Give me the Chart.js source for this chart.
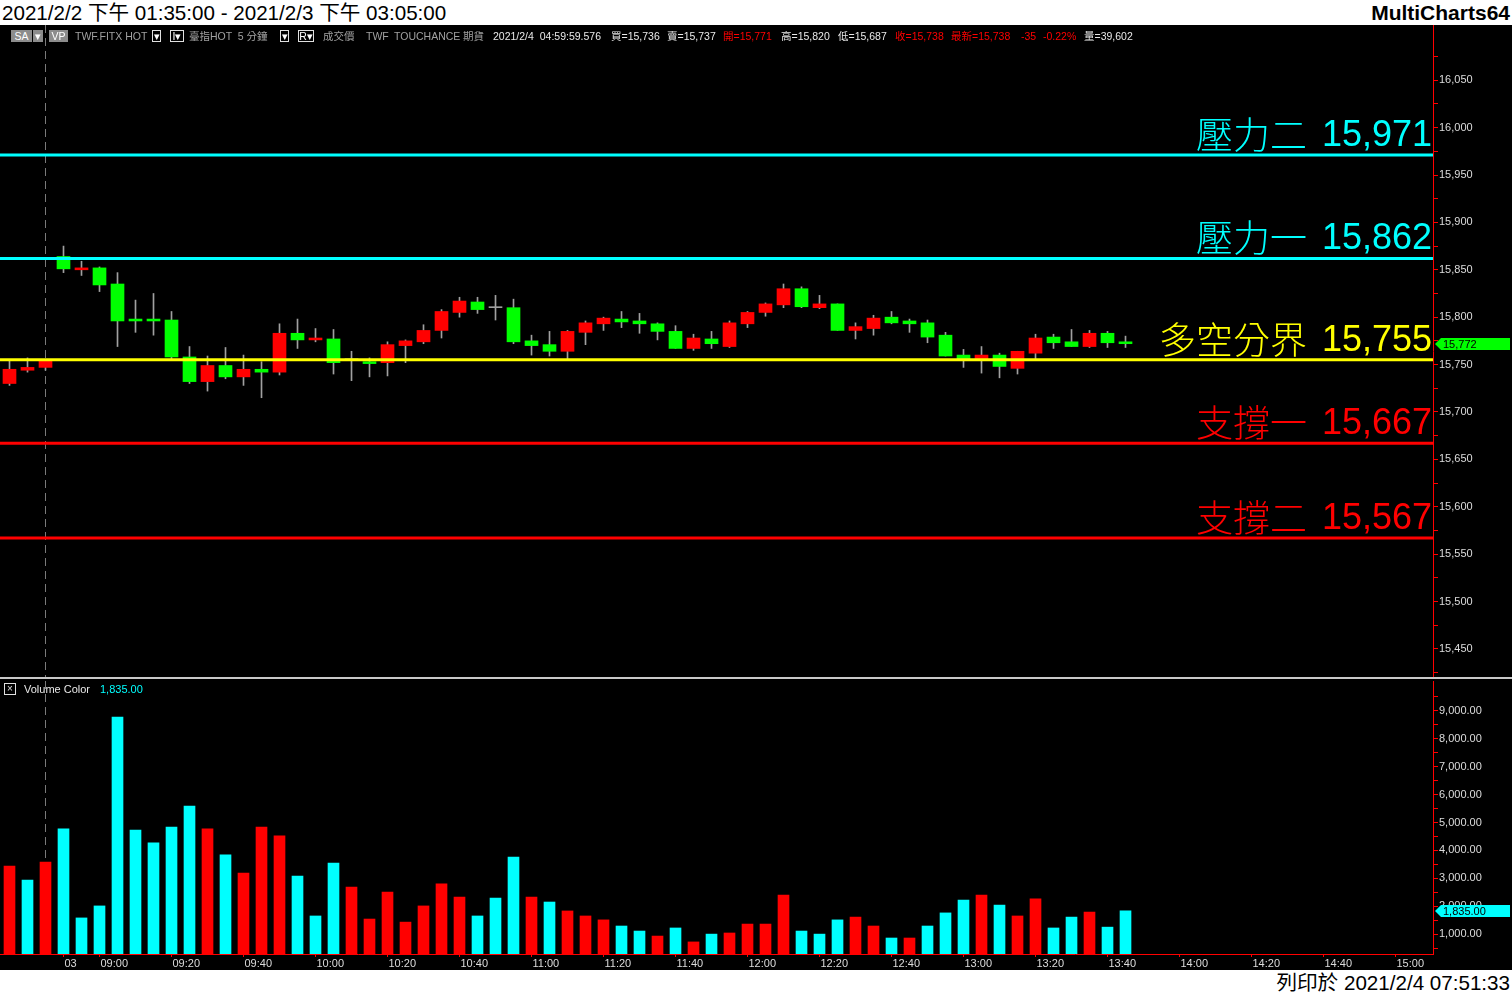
<!DOCTYPE html>
<html>
<head>
<meta charset="utf-8">
<title>TWF.FITX HOT 5 分鐘</title>
<script src="https://cdn.jsdelivr.net/npm/chart.js@4/dist/chart.umd.min.js"></script>
<style>
  body { margin: 0; background: #fff; width: 1512px; height: 995px; overflow: hidden; position: relative;
         font-family: "Liberation Sans", Arial, "Noto Sans CJK TC", sans-serif; }
  #title { position: absolute; left: 2px; top: 0; font-size: 20.6px; line-height: 25px; color: #000; }
  #brand { position: absolute; right: 2px; top: 0; font-size: 21px; font-weight: bold; line-height: 25px; color: #000; }
  #board { position: absolute; left: 0; top: 25px; width: 1512px; height: 945px; background: #000; }
  #priceChart { position: absolute; left: 0; top: 0; }
  #sep { position: absolute; left: 0; top: 652px; width: 1512px; height: 2px; background: #c8c8c8; }
  #volChart { position: absolute; left: 0; top: 654px; }
  #footer { position: absolute; right: 2px; top: 970px; font-size: 20.6px; line-height: 25px; color: #000; }
  .s { position: absolute; top: 5px; height: 12px; line-height: 12px; font-size: 10.5px; white-space: pre; }
  .gray { color: #a0a0a0; }
  .white { color: #e8e8e8; }
  .red { color: #ff0000; }
  .fill { background: #8c8c8c; color: #fff; text-align: center; }
  .box { box-sizing: border-box; border: 1px solid #e0e0e0; color: #fff; text-align: center; line-height: 10px; }
  #volLegend { position: absolute; left: 0; top: 658px; height: 12px; }
  #volLegend .x { position: absolute; left: 4px; top: 0; width: 12px; height: 12px; box-sizing: border-box;
                  border: 1px solid #e0e0e0; color: #e0e0e0; font-size: 10px; line-height: 10px; text-align: center; }
  #volLegend span { position: absolute; top: 0; font-size: 11px; line-height: 12px; white-space: pre; }
</style>
</head>
<body>
<div id="title">2021/2/2 下午 01:35:00 - 2021/2/3 下午 03:05:00</div>
<div id="brand">MultiCharts64</div>
<div id="board">
  <canvas id="priceChart" width="1512" height="652"></canvas>
  <div id="sep"></div>
  <canvas id="volChart" width="1512" height="291"></canvas>

  <span class="s fill" style="left:11px;width:21px">SA</span>
  <span class="s fill" style="left:33px;width:10px">▾</span>
  <span class="s fill" style="left:49px;width:19px">VP</span>
  <span class="s gray" style="left:75px">TWF.FITX HOT</span>
  <span class="s box" style="left:152px;width:9px">▾</span>
  <span class="s box" style="left:170px;width:14px">I▾</span>
  <span class="s gray" style="left:189px">臺指HOT  5 分鐘</span>
  <span class="s box" style="left:280px;width:9px">▾</span>
  <span class="s box" style="left:298px;width:16px">R▾</span>
  <span class="s gray" style="left:323px">成交價</span>
  <span class="s gray" style="left:366px">TWF</span>
  <span class="s gray" style="left:394px">TOUCHANCE</span>
  <span class="s gray" style="left:463px">期貨</span>
  <span class="s white" style="left:493px">2021/2/4  04:59:59.576</span>
  <span class="s white" style="left:611px">買=15,736</span>
  <span class="s white" style="left:667px">賣=15,737</span>
  <span class="s red" style="left:723px">開=15,771</span>
  <span class="s white" style="left:781px">高=15,820</span>
  <span class="s white" style="left:838px">低=15,687</span>
  <span class="s red" style="left:895px">收=15,738</span>
  <span class="s red" style="left:951px">最新=15,738</span>
  <span class="s red" style="left:1021px">-35</span>
  <span class="s red" style="left:1043px">-0.22%</span>
  <span class="s white" style="left:1084px">量=39,602</span>

  <div id="volLegend">
    <div class="x">×</div>
    <span class="white" style="left:24px">Volume Color</span>
    <span id="volLast" style="left:100px;color:#00ffff"></span>
  </div>
</div>
<div id="footer">列印於 2021/2/4 07:51:33</div>

<script>
// 5-minute bars: 3 bars of 2/2 (13:35-13:45), then 2/3 from 08:50 to 13:45
const candleOpen = [
  15730, 15744, 15747, 15864, 15850, 15852, 15835, 15798, 15798, 15797,
  15758, 15732, 15749, 15737, 15745, 15742, 15783, 15776, 15777, 15755,
  15753, 15752, 15770, 15774, 15786, 15805, 15816, 15810, 15810, 15775,
  15771, 15764, 15784, 15793, 15798, 15796, 15793, 15785, 15767, 15777,
  15769, 15793, 15805, 15813, 15830, 15810, 15814, 15786, 15788, 15800,
  15796, 15794, 15781, 15760, 15756, 15760, 15746, 15762, 15779, 15774,
  15769, 15783, 15774
];
const candleHigh = [
  15754, 15757, 15755, 15875, 15859, 15853, 15847, 15818, 15825, 15806,
  15769, 15759, 15768, 15760, 15753, 15793, 15798, 15788, 15787, 15764,
  15757, 15774, 15776, 15792, 15808, 15821, 15821, 15823, 15819, 15781,
  15785, 15786, 15796, 15800, 15806, 15804, 15794, 15791, 15782, 15785,
  15796, 15806, 15815, 15835, 15832, 15823, 15814, 15794, 15802, 15806,
  15798, 15797, 15784, 15766, 15769, 15762, 15764, 15782, 15782, 15787,
  15786, 15785, 15780
];
const candleLow = [
  15728, 15742, 15744, 15847, 15844, 15827, 15769, 15784, 15781, 15756,
  15730, 15722, 15735, 15728, 15715, 15739, 15767, 15774, 15740, 15733,
  15737, 15738, 15752, 15772, 15778, 15800, 15804, 15797, 15772, 15760,
  15759, 15756, 15771, 15786, 15789, 15783, 15776, 15767, 15765, 15767,
  15768, 15789, 15801, 15810, 15810, 15809, 15786, 15777, 15781, 15793,
  15784, 15773, 15759, 15747, 15741, 15736, 15740, 15756, 15767, 15769,
  15768, 15768, 15768
];
const candleClose = [
  15745, 15747, 15754, 15851, 15852, 15834, 15796, 15796, 15796, 15758,
  15732, 15749, 15737, 15745, 15742, 15783, 15776, 15778, 15752, 15755,
  15751, 15771, 15775, 15786, 15806, 15817, 15808, 15810, 15774, 15770,
  15764, 15785, 15794, 15799, 15795, 15793, 15785, 15767, 15778, 15772,
  15794, 15805, 15814, 15830, 15811, 15814, 15786, 15790, 15799, 15794,
  15793, 15779, 15759, 15756, 15760, 15748, 15764, 15778, 15773, 15769,
  15783, 15773, 15772
];
const volumeValues = [
  3440, 2940, 3580, 4770, 1580, 2010, 8780, 4730, 4270, 4840,
  5590, 4770, 3840, 3190, 4840, 4520, 3080, 1650, 3550, 2690,
  1540, 2510, 1430, 2010, 2800, 2330, 1650, 2290, 3760, 2330,
  2150, 1830, 1650, 1510, 1290, 1110, 930, 1220, 720, 1000,
  1040, 1360, 1360, 2400, 1110, 1000, 1510, 1610, 1290, 860,
  860, 1290, 1760, 2220, 2400, 2040, 1650, 2260, 1220, 1610,
  1790, 1250, 1835
];
// r = red bar, c = cyan bar
const volumeSide = [
  'r','c','r','c','c','c','c','c','c','c',
  'c','r','c','r','r','r','c','c','c','r',
  'r','r','r','r','r','r','c','c','c','r',
  'c','r','r','r','c','c','r','c','r','c',
  'r','r','r','r','c','c','c','r','r','c',
  'r','c','c','c','r','c','r','r','c','c',
  'r','c','c'
];
const levelNames = ['壓力二', '壓力一', '多空分界', '支撐一', '支撐二'];
const levelValues = [15971, 15862, 15755, 15667, 15567];
const levelColors = ['#00ffff', '#00ffff', '#ffff00', '#ff0000', '#ff0000'];

const timeTickIndex = [3, 5, 9, 13, 17, 21, 25, 29, 33, 37, 41, 45, 49, 53, 57, 61, 65, 69, 73, 77];
const timeTickLabels = ['03', '09:00', '09:20', '09:40', '10:00', '10:20', '10:40', '11:00', '11:20', '11:40',
  '12:00', '12:20', '12:40', '13:00', '13:20', '13:40', '14:00', '14:20', '14:40', '15:00'];
const priceTickLabels = ['15,450', '15,500', '15,550', '15,600', '15,650', '15,700', '15,750',
  '15,800', '15,850', '15,900', '15,950', '16,000', '16,050'];
const volumeTickLabels = ['1,000.00', '2,000.00', '3,000.00', '4,000.00', '5,000.00',
  '6,000.00', '7,000.00', '8,000.00', '9,000.00'];
const dayBreakIndex = 2;

const UP = '#ff0000', DOWN = '#00ff00', FLAT = '#a0a0a0', WICK = '#a0a0a0';
const AXIS_RED = '#ff0000', LABEL = '#dcdcdc';
const xMin = -0.528, xMax = 79.083;
const axisFont = { family: '"Liberation Sans", Arial, sans-serif', size: 11 };

const num = (s) => Number(s.replace(/,/g, ''));
const priceTickValues = [];
priceTickLabels.forEach((l) => { priceTickValues.push(num(l) - 25, num(l)); });
priceTickValues.push(16075);
const volTickValues = [];
volumeTickLabels.forEach((l) => { volTickValues.push(num(l) - 500, num(l)); });
volTickValues.push(9500);

const dayBreak = {
  id: 'dayBreak',
  beforeDatasetsDraw(chart) {
    const { ctx, chartArea: a, scales: { x } } = chart;
    const px = Math.floor(x.getPixelForValue(dayBreakIndex)) + 0.5;
    ctx.save();
    ctx.strokeStyle = '#7a7a7a';
    ctx.lineWidth = 1;
    ctx.setLineDash([8, 5]);
    ctx.beginPath();
    ctx.moveTo(px, a.top);
    ctx.lineTo(px, a.bottom);
    ctx.stroke();
    ctx.restore();
  },
};

function lastTag(values, color, text) {
  return {
    id: 'lastTag',
    afterDraw(chart) {
      const { ctx, chartArea: a, scales: { y } } = chart;
      const py = Math.round(y.getPixelForValue(values[values.length - 1]));
      const x0 = a.right + 2;
      ctx.save();
      ctx.fillStyle = color;
      ctx.beginPath();
      ctx.moveTo(x0, py);
      ctx.lineTo(x0 + 6, py - 6);
      ctx.lineTo(1510, py - 6);
      ctx.lineTo(1510, py + 6);
      ctx.lineTo(x0 + 6, py + 6);
      ctx.closePath();
      ctx.fill();
      ctx.fillStyle = '#000';
      ctx.font = '11px "Liberation Sans", Arial, sans-serif';
      ctx.textBaseline = 'middle';
      ctx.textAlign = 'left';
      ctx.fillText(text, x0 + 8, py + 1);
      ctx.restore();
    },
  };
}

const levelLabels = {
  id: 'levelLabels',
  afterDatasetsDraw(chart) {
    const { ctx, chartArea: a, scales: { y } } = chart;
    ctx.save();
    levelValues.forEach((v, i) => {
      const py = y.getPixelForValue(v);
      const right = a.right - 1;
      const numText = v.toLocaleString('en-US');
      ctx.fillStyle = levelColors[i];
      ctx.textAlign = 'right';
      ctx.textBaseline = 'alphabetic';
      ctx.font = '36px "Liberation Sans", Arial, sans-serif';
      ctx.fillText(numText, right, py - 9);
      const w = ctx.measureText(numText).width;
      ctx.font = '300 37px "Noto Sans CJK TC", sans-serif';
      ctx.fillText(levelNames[i], right - w - 15, py - 6);
    });
    ctx.restore();
  },
};

const rightAxis = (min, max, tickValues, labels) => ({
  position: 'right',
  min: min,
  max: max,
  afterBuildTicks: (scale) => { scale.ticks = tickValues.map((v) => ({ value: v })); },
  afterFit: (scale) => { scale.width = 79; scale.paddingTop = 0; scale.paddingBottom = 0; },
  grid: { drawOnChartArea: false, drawTicks: true, tickLength: 5, color: AXIS_RED },
  border: { color: AXIS_RED, width: 1 },
  ticks: {
    color: LABEL,
    font: axisFont,
    padding: 1,
    autoSkip: false,
    callback: (value) => {
      const hit = labels.find((l) => num(l) === value);
      return hit ? hit : '';
    },
  },
});

new Chart(document.getElementById('priceChart'), {
  type: 'bar',
  data: {
    datasets: [
      {
        label: 'wick',
        data: candleHigh.map((h, i) => ({ x: i, y: [candleLow[i], h] })),
        backgroundColor: WICK,
        barThickness: 1,
        grouped: false,
        order: 3,
      },
      {
        label: 'body',
        data: candleOpen.map((o, i) => ({ x: i, y: [o, candleClose[i]] })),
        backgroundColor: candleOpen.map((o, i) =>
          candleClose[i] > o ? UP : candleClose[i] < o ? DOWN : FLAT),
        barThickness: 13,
        minBarLength: 1,
        grouped: false,
        order: 2,
      },
      ...levelValues.map((v, i) => ({
        type: 'line',
        label: levelNames[i],
        data: [{ x: xMin, y: v }, { x: xMax, y: v }],
        borderColor: levelColors[i],
        borderWidth: 3,
        pointRadius: 0,
        order: 1,
      })),
    ],
  },
  options: {
    responsive: false,
    animation: false,
    devicePixelRatio: 1,
    events: [],
    layout: { padding: 0 },
    plugins: { legend: { display: false }, tooltip: { enabled: false } },
    scales: {
      x: { type: 'linear', min: xMin, max: xMax, offset: false, display: false },
      y: rightAxis(15420.3, 16108.3, priceTickValues, priceTickLabels),
    },
  },
  plugins: [dayBreak, levelLabels,
    lastTag(candleClose, '#00ff00', candleClose[candleClose.length - 1].toLocaleString('en-US'))],
});

const volText = volumeValues[volumeValues.length - 1].toLocaleString('en-US', { minimumFractionDigits: 2 });
document.getElementById('volLast').textContent = volText;

new Chart(document.getElementById('volChart'), {
  type: 'bar',
  data: {
    datasets: [{
      label: 'Volume Color',
      data: volumeValues.map((v, i) => ({ x: i, y: v })),
      backgroundColor: volumeSide.map((s) => (s === 'r' ? '#ff0000' : '#00ffff')),
      barThickness: 11,
      grouped: false,
    }],
  },
  options: {
    responsive: false,
    animation: false,
    devicePixelRatio: 1,
    events: [],
    layout: { padding: { top: 2 } },
    plugins: { legend: { display: false }, tooltip: { enabled: false } },
    scales: {
      x: {
        type: 'linear',
        min: xMin,
        max: xMax,
        offset: false,
        afterBuildTicks: (scale) => { scale.ticks = timeTickIndex.map((v) => ({ value: v })); },
        afterFit: (scale) => { scale.height = 16; scale.paddingLeft = 0; scale.paddingRight = 0; },
        grid: { drawOnChartArea: false, drawTicks: true, tickLength: 3, color: AXIS_RED, offset: false },
        border: { color: AXIS_RED, width: 1 },
        ticks: {
          autoSkip: false,
          maxRotation: 0,
          align: 'start',
          labelOffset: 1,
          padding: 0,
          color: LABEL,
          font: axisFont,
          callback: (value, index) => timeTickLabels[index],
        },
      },
      y: rightAxis(287, 10072, volTickValues, volumeTickLabels),
    },
  },
  plugins: [dayBreak, lastTag(volumeValues, '#00ffff', volText)],
});
</script>
</body>
</html>
